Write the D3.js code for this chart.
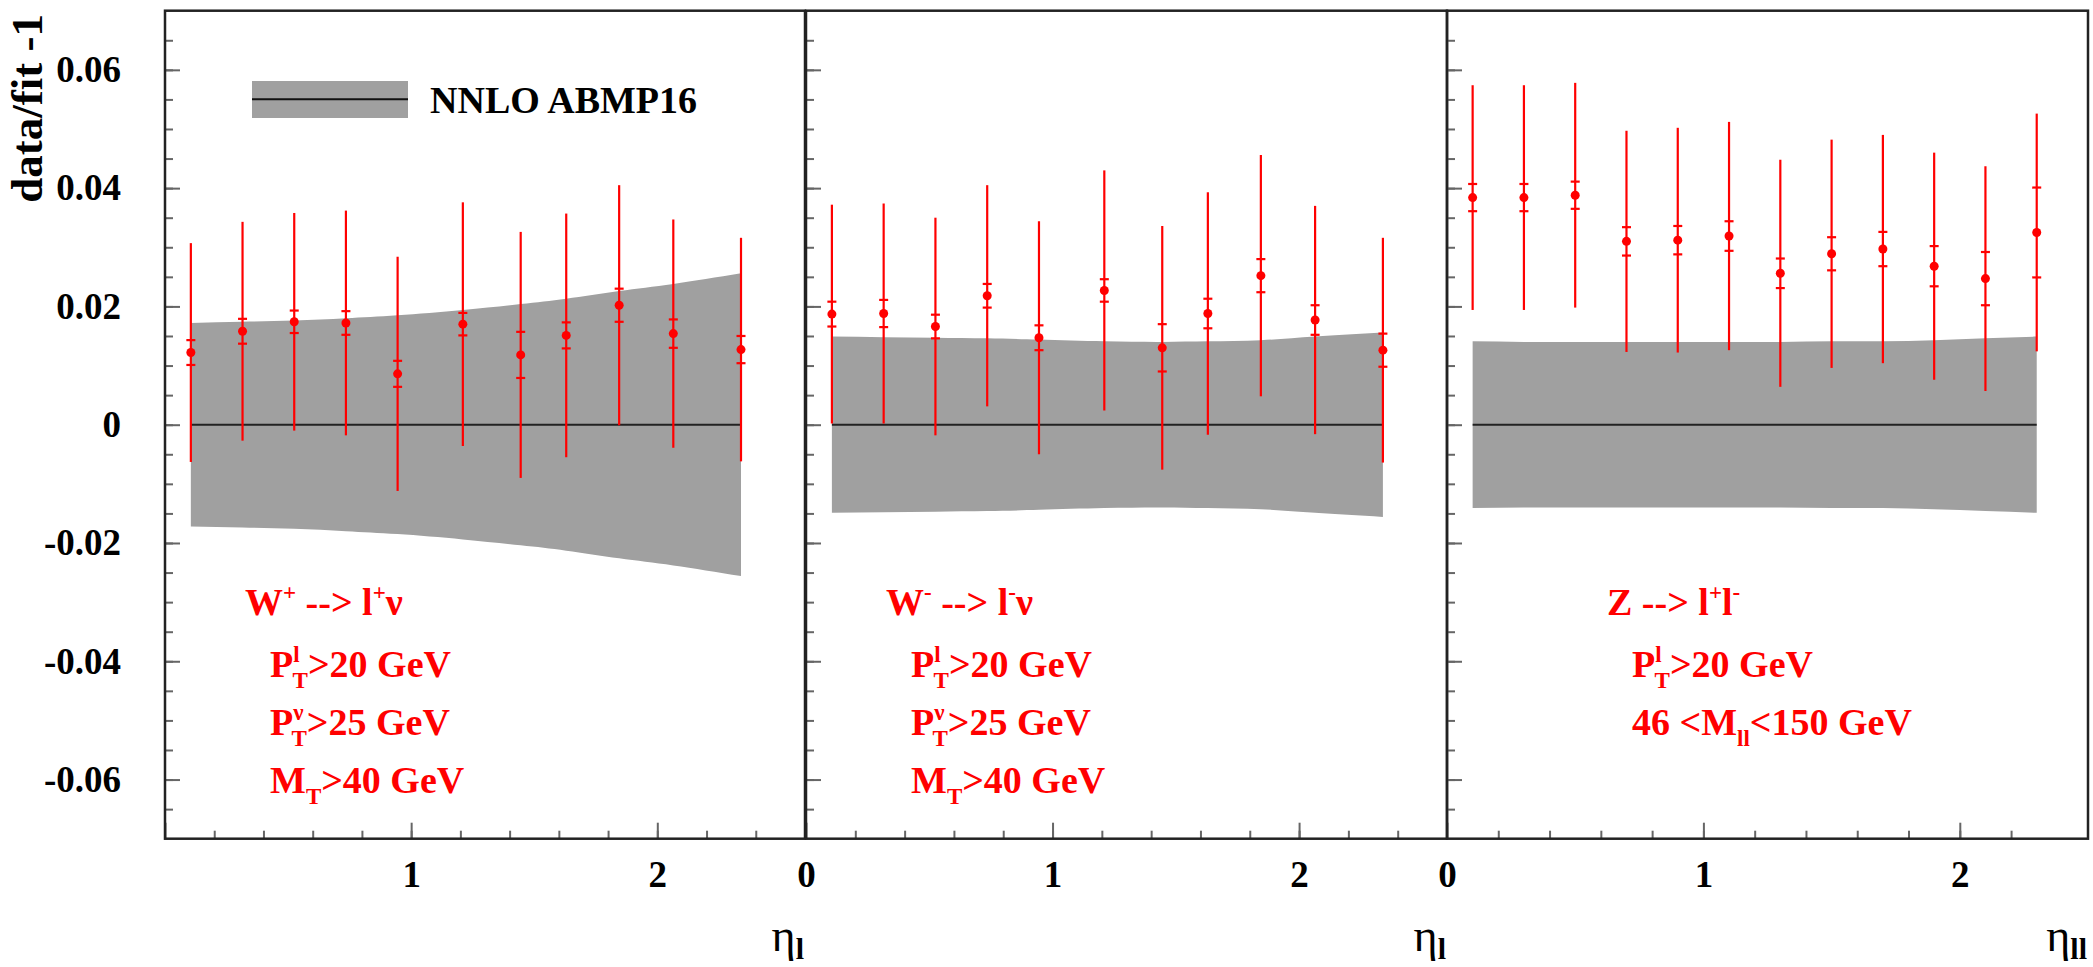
<!DOCTYPE html>
<html lang="en">
<head>
<meta charset="UTF-8">
<title>data/fit -1</title>
<script src="https://d3js.org/d3.v7.min.js"></script>
<style>
    body { margin: 0; background: #fff; }
    svg { display: block; }
    svg text { font-family: "Liberation Serif", "Times New Roman", serif !important; font-weight: bold; }
</style>
</head>
<body>
<script>
    // lepton / dilepton rapidity bin centres
    const etaW = [0.105, 0.315, 0.525, 0.735, 0.945, 1.21, 1.445, 1.63, 1.845, 2.065, 2.34];
    const etaZ = [0.1, 0.3, 0.5, 0.7, 0.9, 1.1, 1.3, 1.5, 1.7, 1.9, 2.1, 2.3];

    // W+ -> l+ nu
    const wpVal  = [0.0122, 0.0158, 0.0174, 0.0172, 0.0086, 0.0170, 0.0118, 0.0151, 0.0202, 0.0154, 0.0127];
    const wpStat = [0.0021, 0.0021, 0.0019, 0.0020, 0.0022, 0.0019, 0.0039, 0.0022, 0.0028, 0.0024, 0.0023];
    const wpTot  = [0.0185, 0.0185, 0.0184, 0.0190, 0.0198, 0.0206, 0.0208, 0.0206, 0.0203, 0.0193, 0.0189];
    const wpBand = [0.0172, 0.0174, 0.0176, 0.0180, 0.0185, 0.0194, 0.0204, 0.0213, 0.0226, 0.0238, 0.0256];

    // W- -> l- nu
    const wmVal  = [0.0187, 0.0188, 0.0166, 0.0218, 0.0147, 0.0227, 0.0130, 0.0188, 0.0252, 0.0177, 0.0126];
    const wmStat = [0.0021, 0.0023, 0.0020, 0.0020, 0.0021, 0.0019, 0.0040, 0.0025, 0.0028, 0.0025, 0.0028];
    const wmTot  = [0.0185, 0.0186, 0.0184, 0.0187, 0.0197, 0.0203, 0.0206, 0.0205, 0.0204, 0.0193, 0.0190];
    const wmBand = [0.0149, 0.0148, 0.0147, 0.0146, 0.0144, 0.0141, 0.0140, 0.0141, 0.0143, 0.0149, 0.0156];

    // Z -> l+ l-
    const zVal  = [0.0384, 0.0384, 0.0388, 0.0310, 0.0312, 0.0319, 0.0256, 0.0289, 0.0297, 0.0268, 0.0247, 0.0325];
    const zStat = [0.0023, 0.0023, 0.0023, 0.0024, 0.0024, 0.0025, 0.0025, 0.0028, 0.0029, 0.0034, 0.0045, 0.0076];
    const zTot  = [0.0190, 0.0190, 0.0190, 0.0187, 0.0190, 0.0193, 0.0192, 0.0193, 0.0193, 0.0192, 0.0190, 0.0201];
    const zBand = [0.0141, 0.0140, 0.0140, 0.0140, 0.0140, 0.0140, 0.0140, 0.0141, 0.0141, 0.0143, 0.0146, 0.0149];

    const yTicks = [-0.06, -0.04, -0.02, 0, 0.02, 0.04, 0.06];
    const yTickLabels = ["-0.06", "-0.04", "-0.02", "0", "0.02", "0.04", "0.06"];
    const xTicks = [0, 1, 2];
    const xTickLabels = ["0", "1", "2"];

    const width = 2093, height = 967;
    const yTop = 10.7, yBottom = 838.7;
    const red = "#ff0000";

    const y = d3.scaleLinear().domain([-0.07, 0.07]).range([yBottom, yTop]);

    const panels = [
        { eta: etaW, val: wpVal, stat: wpStat, tot: wpTot, band: wpBand, xmax: 2.6, left: 165, right: 805, sub: "l",
          showY: true, xLabels: [1, 2] },
        { eta: etaW, val: wmVal, stat: wmStat, tot: wmTot, band: wmBand, xmax: 2.6, left: 806, right: 1447, sub: "l",
          showY: false, xLabels: [0, 1, 2] },
        { eta: etaZ, val: zVal, stat: zStat, tot: zTot, band: zBand, xmax: 2.5, left: 1447, right: 2088, sub: "ll",
          showY: false, xLabels: [0, 1, 2] }
    ];

    const svg = d3.select("body").append("svg")
        .attr("width", width)
        .attr("height", height);

    svg.append("rect").attr("width", width).attr("height", height).attr("fill", "#fff");

    // text with superscripts / subscripts: parts = [text, kind, dx]
    function rich(g, x, yy, parts, size) {
        const t = g.append("text").attr("x", x).attr("y", yy)
            .attr("font-size", size).attr("fill", red);
        let shift = 0;
        parts.forEach(p => {
            const kind = p[1] || "";
            const target = kind === "sup" ? -15 : kind === "sub" ? 11 : 0;
            const ts = t.append("tspan").text(p[0]).attr("dy", target - shift);
            shift = target;
            if (kind) ts.attr("font-size", 23);
            if (p[2]) ts.attr("dx", p[2]);
        });
        return t;
    }

    panels.forEach(p => {
        const x = d3.scaleLinear().domain([0, p.xmax]).range([p.left, p.right]);
        const g = svg.append("g");
        const pts = p.eta.map((e, i) => ({ eta: e, v: p.val[i], s: p.stat[i], t: p.tot[i], b: p.band[i] }));

        // theory uncertainty band
        g.append("path")
            .datum(pts)
            .attr("fill", "#a0a0a0")
            .attr("d", d3.area()
                .x(d => x(d.eta))
                .y0(d => y(-d.b))
                .y1(d => y(d.b))
                .curve(d3.curveNatural));

        g.append("line")
            .attr("x1", x(p.eta[0])).attr("x2", x(p.eta[p.eta.length - 1]))
            .attr("y1", y(0)).attr("y2", y(0))
            .attr("stroke", "#222").attr("stroke-width", 2);

        // total errors
        g.selectAll(".tot").data(pts).join("line")
            .attr("class", "tot")
            .attr("x1", d => x(d.eta)).attr("x2", d => x(d.eta))
            .attr("y1", d => y(d.v - d.t)).attr("y2", d => y(d.v + d.t))
            .attr("stroke", red).attr("stroke-width", 2.2);

        // statistical errors with caps
        pts.forEach(d => {
            [d.v - d.s, d.v + d.s].forEach(c => {
                g.append("line")
                    .attr("x1", x(d.eta) - 4.5).attr("x2", x(d.eta) + 4.5)
                    .attr("y1", y(c)).attr("y2", y(c))
                    .attr("stroke", red).attr("stroke-width", 2.2);
            });
        });

        g.selectAll("circle").data(pts).join("circle")
            .attr("cx", d => x(d.eta)).attr("cy", d => y(d.v))
            .attr("r", 4.5).attr("fill", red);

        // axes
        const yMinor = d3.axisLeft(y).tickValues(d3.range(-0.065, 0.066, 0.005))
            .tickSize(-8).tickFormat("");
        const yMajor = d3.axisLeft(y).tickValues(yTicks).tickSize(-15).tickPadding(44)
            .tickFormat(d => p.showY ? yTickLabels[yTicks.indexOf(d)] : "");
        [yMinor, yMajor].forEach(ax => {
            const a = g.append("g").attr("transform", `translate(${p.left},0)`).call(ax);
            a.attr("font-family", null).attr("font-size", null);
            a.select(".domain").remove();
            a.selectAll("line").attr("stroke", "#666").attr("stroke-width", 2);
            a.selectAll("text").attr("font-size", 37).attr("fill", "#000");
        });

        const xMinor = d3.axisBottom(x).tickValues(d3.range(0.2, p.xmax - 0.1, 0.2))
            .tickSize(-8).tickFormat("");
        const xMajor = d3.axisBottom(x).tickValues(xTicks).tickSize(-16).tickPadding(22)
            .tickFormat(d => p.xLabels.includes(d) ? xTickLabels[xTicks.indexOf(d)] : "");
        [xMinor, xMajor].forEach(ax => {
            const a = g.append("g").attr("transform", `translate(0,${yBottom})`).call(ax);
            a.attr("font-family", null).attr("font-size", null);
            a.select(".domain").remove();
            a.selectAll("line").attr("stroke", "#666").attr("stroke-width", 2);
            a.selectAll("text").attr("font-size", 37).attr("fill", "#000");
        });

        g.append("rect")
            .attr("x", p.left).attr("y", yTop)
            .attr("width", p.right - p.left).attr("height", yBottom - yTop)
            .attr("fill", "none").attr("stroke", "#222").attr("stroke-width", 2.5);

        // axis title
        const tt = g.append("text")
            .attr("x", p.right - 1).attr("y", 951)
            .attr("text-anchor", "end").attr("fill", "#000");
        tt.append("tspan").text("η").attr("font-size", 46).style("font-weight", "normal");
        tt.append("tspan").text(p.sub).attr("font-size", 30).attr("dy", 8);

        p.g = g;
    });

    // process annotations
    const a1 = panels[0].g, a2 = panels[1].g, a3 = panels[2].g;
    rich(a1, 245, 615, [["W"], ["+", "sup"], [" --> l", null], ["+", "sup"], ["ν"]], 38);
    rich(a1, 270, 677, [["P"], ["l", "sup"], ["T", "sub", -7], [">20 GeV"]], 38);
    rich(a1, 270, 735, [["P"], ["ν", "sup"], ["T", "sub", -12], [">25 GeV"]], 38);
    rich(a1, 270, 793, [["M"], ["T", "sub"], [">40 GeV"]], 38);

    rich(a2, 886, 615, [["W"], ["-", "sup"], [" --> l", null], ["-", "sup"], ["ν"]], 38);
    rich(a2, 911, 677, [["P"], ["l", "sup"], ["T", "sub", -7], [">20 GeV"]], 38);
    rich(a2, 911, 735, [["P"], ["ν", "sup"], ["T", "sub", -12], [">25 GeV"]], 38);
    rich(a2, 911, 793, [["M"], ["T", "sub"], [">40 GeV"]], 38);

    rich(a3, 1607, 615, [["Z --> l"], ["+", "sup"], ["l"], ["-", "sup"]], 38);
    rich(a3, 1632, 677, [["P"], ["l", "sup"], ["T", "sub", -7], [">20 GeV"]], 38);
    rich(a3, 1632, 735, [["46 <M"], ["ll", "sub"], ["<150 GeV"]], 38);

    // legend
    const lg = svg.append("g");
    lg.append("rect").attr("x", 252).attr("y", 81).attr("width", 156).attr("height", 37).attr("fill", "#a0a0a0");
    lg.append("line").attr("x1", 252).attr("x2", 408).attr("y1", 99.3).attr("y2", 99.3)
        .attr("stroke", "#111").attr("stroke-width", 2);
    lg.append("text").attr("x", 430).attr("y", 113).attr("font-size", 38).text("NNLO ABMP16");

    // y axis title
    svg.append("text")
        .attr("transform", "translate(42,14) rotate(-90)")
        .attr("text-anchor", "end")
        .attr("font-size", 45)
        .text("data/fit -1");
</script>
</body>
</html>
